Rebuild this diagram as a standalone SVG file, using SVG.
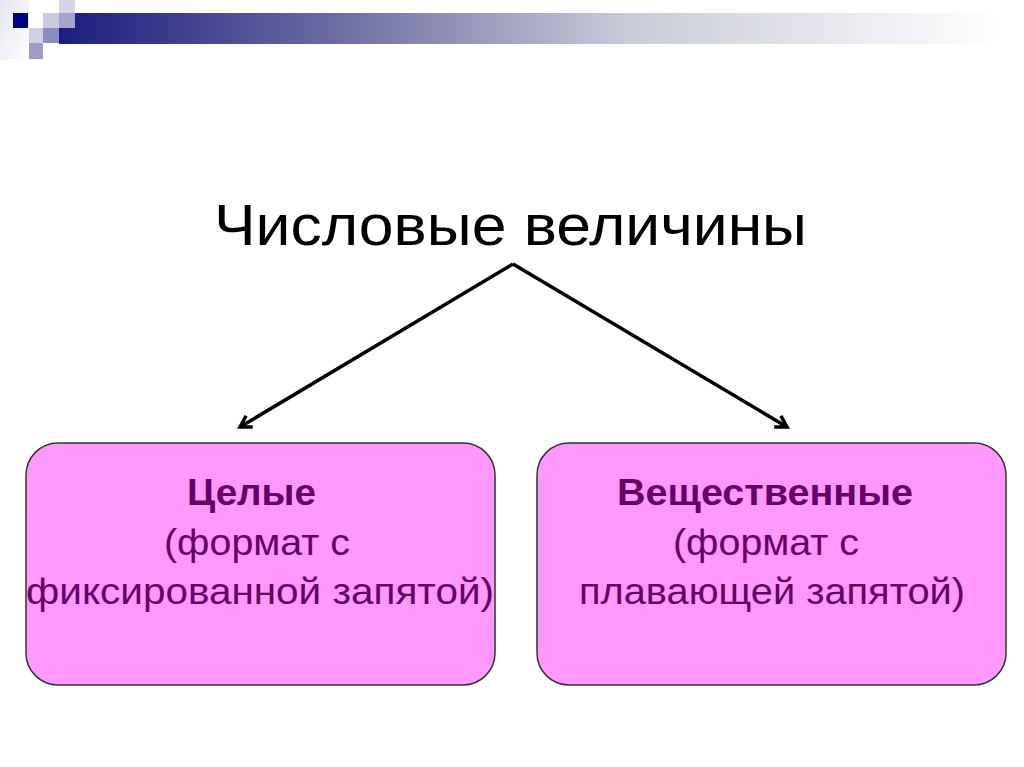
<svg xmlns="http://www.w3.org/2000/svg" width="1024" height="767" viewBox="0 0 1024 767">
  <style>
    .title { font-family: "Liberation Sans", Arial, sans-serif; font-size: 57px; fill: #000; }
    .head { font-family: "Liberation Sans", Arial, sans-serif; font-size: 36px; font-weight: bold; fill: #660066; }
    .body { font-family: "Liberation Sans", Arial, sans-serif; font-size: 37px; fill: #660066; }
    .box { fill: #ff99ff; stroke: #333333; stroke-width: 1.5; }
    .conn { stroke: #000; stroke-width: 3.5; fill: none; marker-end: url(#arr); }
  </style>
  <defs>
    <linearGradient id="bar" x1="0" y1="0" x2="1" y2="0">
      <stop offset="0" stop-color="#1c1c80"/>
      <stop offset="0.3" stop-color="#6e6ea4"/>
      <stop offset="0.6" stop-color="#c8cad8"/>
      <stop offset="1" stop-color="#ffffff"/>
    </linearGradient>
    <linearGradient id="lt" x1="0" y1="0" x2="1" y2="1">
      <stop offset="0" stop-color="#e4e4ee"/>
      <stop offset="1" stop-color="#ffffff"/>
    </linearGradient>
    <marker id="arr" markerWidth="16" markerHeight="16" refX="12" refY="8" orient="auto" markerUnits="userSpaceOnUse">
      <path d="M1,1.5 L12,8 L1,14.5" fill="none" stroke="#000" stroke-width="3.5"/>
    </marker>
  </defs>
  <rect width="1024" height="767" fill="#ffffff"/>
  <g id="header">
    <rect x="0" y="0" width="29" height="60" fill="url(#lt)"/>
    <rect x="59" y="13" width="941" height="31" fill="url(#bar)"/>
    <rect x="59" y="0" width="16" height="13" fill="#d4d4e6"/>
    <rect x="59" y="13" width="16" height="15" fill="#a4a4cc"/>
    <rect x="43" y="13" width="16" height="15" fill="#cacae0"/>
    <rect x="43" y="28" width="16" height="15" fill="#8c8cc0"/>
    <rect x="29" y="28" width="14" height="15" fill="#d0d0e4"/>
    <rect x="29" y="43" width="14" height="16" fill="#9c9cc8"/>
    <rect x="13" y="13" width="15" height="15" fill="#000080"/>
  </g>
  <g id="title">
    <text class="title" x="214" y="245" textLength="593" lengthAdjust="spacingAndGlyphs">Числовые величины</text>
  </g>
  <g id="connectors">
    <line class="conn" x1="513" y1="264" x2="240" y2="427"/>
    <line class="conn" x1="513" y1="264" x2="787" y2="427"/>
  </g>
  <g id="node-integers">
    <rect class="box" x="26" y="443" width="469" height="242" rx="32"/>
    <text class="head" x="187" y="505" textLength="129" lengthAdjust="spacingAndGlyphs">Целые</text>
    <text class="body" x="164" y="555" textLength="186" lengthAdjust="spacingAndGlyphs">(формат с</text>
    <text class="body" x="26" y="604" textLength="468" lengthAdjust="spacingAndGlyphs">фиксированной запятой)</text>
  </g>
  <g id="node-reals">
    <rect class="box" x="537" y="443" width="469" height="242" rx="32"/>
    <text class="head" x="617" y="505" textLength="296" lengthAdjust="spacingAndGlyphs">Вещественные</text>
    <text class="body" x="673" y="555" textLength="186" lengthAdjust="spacingAndGlyphs">(формат с</text>
    <text class="body" x="579" y="604" textLength="386" lengthAdjust="spacingAndGlyphs">плавающей запятой)</text>
  </g>
</svg>
